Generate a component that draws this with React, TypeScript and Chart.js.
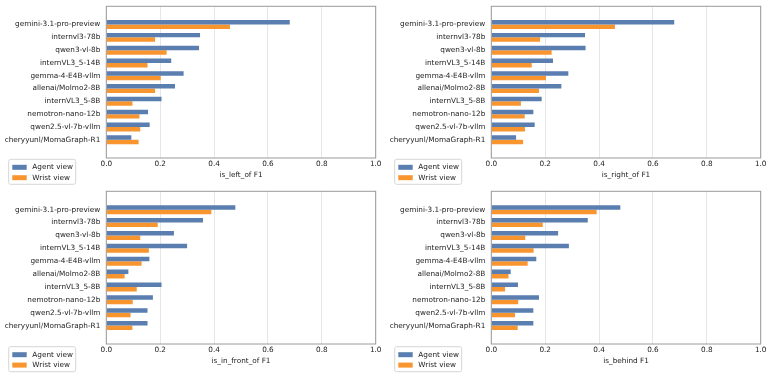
import React, { useEffect, useRef } from 'react';
import { Chart, registerables } from 'chart.js';

Chart.register(...registerables);

const categories = [
  'gemini-3.1-pro-preview',
  'internvl3-78b',
  'qwen3-vl-8b',
  'internVL3_5-14B',
  'gemma-4-E4B-vllm',
  'allenai/Molmo2-8B',
  'internVL3_5-8B',
  'nemotron-nano-12b',
  'qwen2.5-vl-7b-vllm',
  'cheryyunl/MomaGraph-R1',
];

const seriesNames = ['Agent view', 'Wrist view'];
const xTickValues = [0, 0.2, 0.4, 0.6, 0.8, 1.0];

const leftAgent = [0.681, 0.348, 0.344, 0.241, 0.287, 0.255, 0.205, 0.155, 0.161, 0.093];
const leftWrist = [0.459, 0.181, 0.224, 0.153, 0.202, 0.181, 0.097, 0.123, 0.126, 0.12];

const rightAgent = [0.679, 0.348, 0.35, 0.229, 0.286, 0.26, 0.187, 0.156, 0.161, 0.092];
const rightWrist = [0.459, 0.181, 0.224, 0.15, 0.203, 0.177, 0.11, 0.124, 0.125, 0.118];

const frontAgent = [0.479, 0.359, 0.251, 0.3, 0.16, 0.082, 0.205, 0.173, 0.153, 0.153];
const frontWrist = [0.39, 0.191, 0.126, 0.158, 0.131, 0.068, 0.113, 0.098, 0.09, 0.097];

const behindAgent = [0.479, 0.358, 0.248, 0.288, 0.167, 0.072, 0.099, 0.177, 0.156, 0.156];
const behindWrist = [0.391, 0.191, 0.126, 0.157, 0.135, 0.064, 0.051, 0.1, 0.088, 0.098];

const AGENT_COLOR = '#5a7eb0';
const WRIST_COLOR = '#f8952f';
const TEXT_COLOR = '#222222';
const FONT_FAMILY = "'DejaVu Sans', sans-serif";
const FONT_SIZE = 7.3;

const W = 386;
const H = 189;

type Area = { left: number; right: number; top: number; bottom: number };
type PanelCfg = {
  title: string;
  agent: number[];
  wrist: number[];
  x: number;
  y: number;
  area: Area;
  legendTop: number;
  titlePad: number;
};

const panels: PanelCfg[] = [
  { title: 'is_left_of F1', agent: leftAgent, wrist: leftWrist, x: 0, y: 0,
    area: { left: 106.3, right: 375.7, top: 6.3, bottom: 158 }, legendTop: 159.3, titlePad: 9.6 },
  { title: 'is_right_of F1', agent: rightAgent, wrist: rightWrist, x: 386, y: 0,
    area: { left: 105.3, right: 374.7, top: 6.3, bottom: 158 }, legendTop: 159.3, titlePad: 9.6 },
  { title: 'is_in_front_of F1', agent: frontAgent, wrist: frontWrist, x: 0, y: 189,
    area: { left: 106.3, right: 375.7, top: 2.3, bottom: 155 }, legendTop: 157.7, titlePad: 12.9 },
  { title: 'is_behind F1', agent: behindAgent, wrist: behindWrist, x: 386, y: 189,
    area: { left: 105.3, right: 374.7, top: 2.3, bottom: 155 }, legendTop: 157.7, titlePad: 12.9 },
];

function Panel({ cfg }: { cfg: PanelCfg }) {
  const ref = useRef<HTMLCanvasElement>(null);

  useEffect(() => {
    if (!ref.current) return;
    const a = cfg.area;
    const font = { family: FONT_FAMILY, size: FONT_SIZE };

    const framePlugin = {
      id: 'frame',
      afterDatasetsDraw(chart: any) {
        const { ctx, chartArea: c } = chart;
        ctx.save();
        ctx.strokeStyle = '#9a9a9a';
        ctx.lineWidth = 1;
        ctx.strokeRect(c.left, c.top, c.right - c.left, c.bottom - c.top);
        ctx.restore();
      },
    };

    const legendPlugin = {
      id: 'boxLegend',
      afterDraw(chart: any) {
        const ctx = chart.ctx as CanvasRenderingContext2D;
        const t = cfg.legendTop;
        const x0 = 8.7;
        const w = 67;
        const h = 25;
        ctx.save();
        ctx.beginPath();
        const r = 2;
        ctx.moveTo(x0 + r, t);
        ctx.lineTo(x0 + w - r, t);
        ctx.quadraticCurveTo(x0 + w, t, x0 + w, t + r);
        ctx.lineTo(x0 + w, t + h - r);
        ctx.quadraticCurveTo(x0 + w, t + h, x0 + w - r, t + h);
        ctx.lineTo(x0 + r, t + h);
        ctx.quadraticCurveTo(x0, t + h, x0, t + h - r);
        ctx.lineTo(x0, t + r);
        ctx.quadraticCurveTo(x0, t, x0 + r, t);
        ctx.closePath();
        ctx.fillStyle = 'rgba(255,255,255,0.85)';
        ctx.fill();
        ctx.strokeStyle = '#d6d6d6';
        ctx.lineWidth = 1;
        ctx.stroke();
        const colors = [AGENT_COLOR, WRIST_COLOR];
        const rows = [t + 8, t + 18.4];
        ctx.font = `${FONT_SIZE}px ${FONT_FAMILY}`;
        ctx.textBaseline = 'middle';
        ctx.textAlign = 'left';
        seriesNames.forEach((name, i) => {
          ctx.fillStyle = colors[i];
          ctx.fillRect(12.3, rows[i] - 2.5, 14.4, 5);
          ctx.fillStyle = TEXT_COLOR;
          ctx.fillText(name, 32.3, rows[i]);
        });
        ctx.restore();
      },
    };

    const chart = new Chart(ref.current, {
      type: 'bar',
      data: {
        datasets: [
          {
            label: seriesNames[0],
            data: cfg.agent.map((v, i) => ({ x: v, y: i })),
            backgroundColor: AGENT_COLOR,
            borderWidth: 0,
            categoryPercentage: 0.7,
            barPercentage: 1.0,
          },
          {
            label: seriesNames[1],
            data: cfg.wrist.map((v, i) => ({ x: v, y: i })),
            backgroundColor: WRIST_COLOR,
            borderWidth: 0,
            categoryPercentage: 0.7,
            barPercentage: 1.0,
          },
        ],
      },
      options: {
        indexAxis: 'y',
        responsive: false,
        animation: false,
        devicePixelRatio: 1,
        layout: { padding: { left: 0, top: a.top, right: W - a.right, bottom: 0 } },
        plugins: { legend: { display: false }, tooltip: { enabled: false } },
        scales: {
          x: {
            type: 'linear',
            position: 'bottom',
            min: 0,
            max: 1,
            grid: { color: '#e6e6e6', lineWidth: 1, drawTicks: false },
            border: { display: false },
            afterBuildTicks: (s: any) => {
              s.ticks = xTickValues.map((v) => ({ value: v }));
            },
            ticks: {
              padding: 2,
              color: TEXT_COLOR,
              font,
              maxRotation: 0,
              autoSkip: false,
              callback: (v: any) => Number(v).toFixed(1),
            },
            title: {
              display: true,
              text: cfg.title,
              color: TEXT_COLOR,
              font,
              padding: { top: 0, bottom: cfg.titlePad },
            },
            afterFit: (s: any) => {
              s.height = H - a.bottom;
              s.paddingLeft = 0;
              s.paddingRight = 0;
            },
          },
          y: {
            type: 'linear',
            reverse: true,
            min: -0.835,
            max: 9.835,
            grid: { display: false, drawTicks: false },
            border: { display: false },
            afterBuildTicks: (s: any) => {
              s.ticks = categories.map((_, i) => ({ value: i }));
            },
            ticks: {
              autoSkip: false,
              padding: 6,
              color: TEXT_COLOR,
              font,
              callback: (v: any) => categories[Number(v)] ?? '',
            },
            afterFit: (s: any) => {
              s.width = a.left;
              s.paddingTop = 0;
              s.paddingBottom = 0;
            },
          },
        },
      } as any,
      plugins: [framePlugin, legendPlugin],
    });

    return () => chart.destroy();
  }, [cfg]);

  return (
    <canvas
      ref={ref}
      width={W}
      height={H}
      style={{ position: 'absolute', left: cfg.x, top: cfg.y, width: W, height: H }}
    />
  );
}

export default function App() {
  return (
    <div
      style={{
        position: 'fixed',
        left: 0,
        top: 0,
        width: 772,
        height: 378,
        background: '#ffffff',
        overflow: 'hidden',
      }}
    >
      {panels.map((p) => (
        <Panel key={p.title} cfg={p} />
      ))}
    </div>
  );
}
